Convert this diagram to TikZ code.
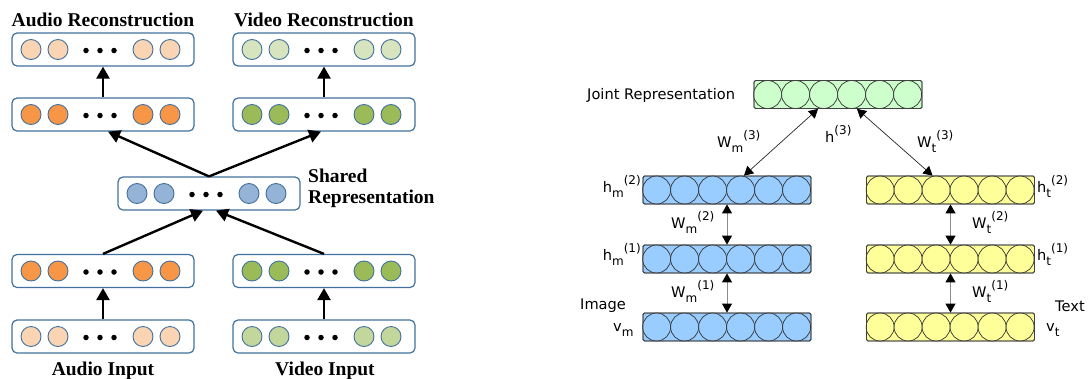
\documentclass[tikz,border=0pt]{standalone}
\usepackage{fontspec}
\usetikzlibrary{arrows.meta,calc}

\newfontfamily\labserif{Liberation Serif}
\newfontfamily\labsans{DejaVu Sans}

\definecolor{boxblue}{HTML}{41719C}
\definecolor{audlight}{HTML}{FBD4B4}
\definecolor{audhid}{HTML}{F79646}
\definecolor{vidrec}{HTML}{D7E4BD}
\definecolor{vidin}{HTML}{C3D69B}
\definecolor{vidhid}{HTML}{9BBB59}
\definecolor{shblue}{HTML}{95B3D7}
\definecolor{imgblue}{HTML}{99CCFF}
\definecolor{txtyellow}{HTML}{FFFF99}
\definecolor{jointgreen}{HTML}{CCFFCC}

\tikzset{
  lay/.style={draw=boxblue, line width=1.2pt, rounded corners=5pt, fill=white,
    minimum width=182pt, minimum height=33pt, inner sep=0pt},
  unit/.style={circle, draw=boxblue, line width=0.9pt, minimum size=20pt, inner sep=0pt},
  dotp/.style={circle, fill=black, minimum size=5.5pt, inner sep=0pt},
  bigarrow/.style={line width=2.4pt, -{Triangle[length=12pt,width=13pt]}},
  seriflab/.style={font=\labserif\bfseries\fontsize{19.5}{21}\selectfont, inner sep=0pt},
  rbm/.style={draw=black!75, line width=0.8pt, rounded corners=1.5pt,
    minimum width=168pt, minimum height=28pt, inner sep=0pt},
  rcell/.style={circle, draw=black!80, line width=0.7pt, minimum size=28pt, inner sep=0pt},
  diagarrow/.style={line width=0.7pt, draw=black!85,
    {Triangle[length=9pt,width=10pt,color=black]}-{Triangle[length=9pt,width=10pt,color=black]}},
  vertarrow/.style={line width=0.9pt, draw=black!45,
    {Triangle[length=9pt,width=10pt,color=black]}-{Triangle[length=9pt,width=10pt,color=black]}},
  sanslab/.style={font=\labsans\fontsize{14.6}{17}\selectfont, inner sep=0pt},
}

% symbol with a lowered subscript followed by a raised superscript
\newcommand\subsup[3]{#1\raisebox{-0.38em}{\fontsize{12}{13}\selectfont #2}%
  \raisebox{0.5em}{\fontsize{12}{13}\selectfont #3}}

% layer of the bimodal autoencoder: name, x, y, unit colour
\newcommand\aelayer[4]{%
  \node[lay] (#1) at (#2,#3) {};
  \foreach \dx [count=\k] in {-72,-45,40,67}
    \node[unit, fill=#4] (#1-u\k) at ($(#1.center)+(\dx,0)$) {};
  \foreach \dx [count=\k] in {-17,-3,11}
    \node[dotp] (#1-d\k) at ($(#1.center)+(\dx,1)$) {};
}

% layer of the multimodal DBM: name, x, y, unit colour
\newcommand\dbmlayer[4]{%
  \node[rbm, fill=#4] (#1) at (#2,#3) {};
  \foreach \k in {1,...,6}
    \node[rcell, fill=#4] (#1-c\k) at ($(#1.west)+(28*\k-14,0)$) {};
  \node[rbm, fill=none] (#1-frame) at (#1.center) {};
}

\begin{document}
\begin{tikzpicture}[x=1pt, y=-1pt]
\useasboundingbox (0,0) rectangle (1089,378);

% ---------------- bimodal deep autoencoder ----------------
\aelayer{arec}{103}{49.5}{audlight}
\aelayer{vrec}{324}{49.5}{vidrec}
\aelayer{ahtop}{103}{114.5}{audhid}
\aelayer{vhtop}{324}{114.5}{vidhid}
\aelayer{sh}{209}{193.5}{shblue}
\aelayer{ahbot}{103}{271}{audhid}
\aelayer{vhbot}{324}{271}{vidhid}
\aelayer{ain}{103}{336.5}{audlight}
\aelayer{vin}{324}{336.5}{vidin}

\draw[bigarrow] (ahtop.north) -- (arec.south);
\draw[bigarrow] (vhtop.north) -- (vrec.south);
\draw[bigarrow] (sh.north) -- ($(ahtop.south)+(5,0)$);
\draw[bigarrow] (sh.north) -- ($(vhtop.south)+(-3,0)$);
\draw[bigarrow] (ahbot.north) -- ($(sh.south)+(-6,0)$);
\draw[bigarrow] (vhbot.north) -- ($(sh.south)+(7,0)$);
\draw[bigarrow] (ain.north) -- (ahbot.south);
\draw[bigarrow] (vin.north) -- (vhbot.south);

\node[seriflab, anchor=base] (t-arec) at (103,26) {Audio Reconstruction};
\node[seriflab, anchor=base] (t-vrec) at (324,26) {Video Reconstruction};
\node[seriflab, anchor=base west] (t-sh1) at (308,182) {Shared};
\node[seriflab, anchor=base west] (t-sh2) at (308,203) {Representation};
\node[seriflab, anchor=base] (t-ain) at (103,375) {Audio Input};
\node[seriflab, anchor=base] (t-vin) at (325,375) {Video Input};

% ---------------- multimodal DBM ----------------
\dbmlayer{joint}{838}{94.5}{jointgreen}
\dbmlayer{hm2}{727}{190}{imgblue}
\dbmlayer{ht2}{950.5}{190}{txtyellow}
\dbmlayer{hm1}{727}{259}{imgblue}
\dbmlayer{ht1}{950.5}{259}{txtyellow}
\dbmlayer{vm}{727}{327}{imgblue}
\dbmlayer{vt}{950.5}{327}{txtyellow}

\draw[diagarrow] ($(joint.south)+(-20,0)$) -- ($(hm2.north)+(17,0)$);
\draw[diagarrow] ($(joint.south)+(19,0)$) -- ($(ht2.north)+(-18,0)$);
\draw[vertarrow] (hm2.south) -- (hm1.north);
\draw[vertarrow] (hm1.south) -- (vm.north);
\draw[vertarrow] (ht2.south) -- (ht1.north);
\draw[vertarrow] (ht1.south) -- (vt.north);

\node[sanslab, anchor=base west] (l-joint) at (587,99) {Joint Representation};
\node[sanslab, anchor=base west] (l-wm3) at (717,147) {\subsup{W}{m}{(3)}};
\node[sanslab, anchor=base west] (l-h3) at (825,142) {\subsup{h}{}{(3)}};
\node[sanslab, anchor=base west] (l-wt3) at (917,147) {\subsup{W}{t}{(3)}};
\node[sanslab, anchor=base east] (l-hm2) at (641,192) {\subsup{h}{m}{(2)}};
\node[sanslab, anchor=base west] (l-ht2) at (1037,192) {\subsup{h}{t}{(2)}};
\node[sanslab, anchor=base west] (l-wm2) at (671,228) {\subsup{W}{m}{(2)}};
\node[sanslab, anchor=base west] (l-wt2) at (972,228) {\subsup{W}{t}{(2)}};
\node[sanslab, anchor=base east] (l-hm1) at (641,260) {\subsup{h}{m}{(1)}};
\node[sanslab, anchor=base west] (l-ht1) at (1037,260) {\subsup{h}{t}{(1)}};
\node[sanslab, anchor=base west] (l-wm1) at (671,297) {\subsup{W}{m}{(1)}};
\node[sanslab, anchor=base west] (l-wt1) at (972,297) {\subsup{W}{t}{(1)}};
\node[sanslab, anchor=base west] (l-img) at (580,309) {Image};
\node[sanslab, anchor=base west] (l-vm) at (613,331) {\subsup{v}{m}{}};
\node[sanslab, anchor=base west] (l-txt) at (1055,311) {Text};
\node[sanslab, anchor=base west] (l-vt) at (1046,331) {\subsup{v}{t}{}};
\end{tikzpicture}
\end{document}
